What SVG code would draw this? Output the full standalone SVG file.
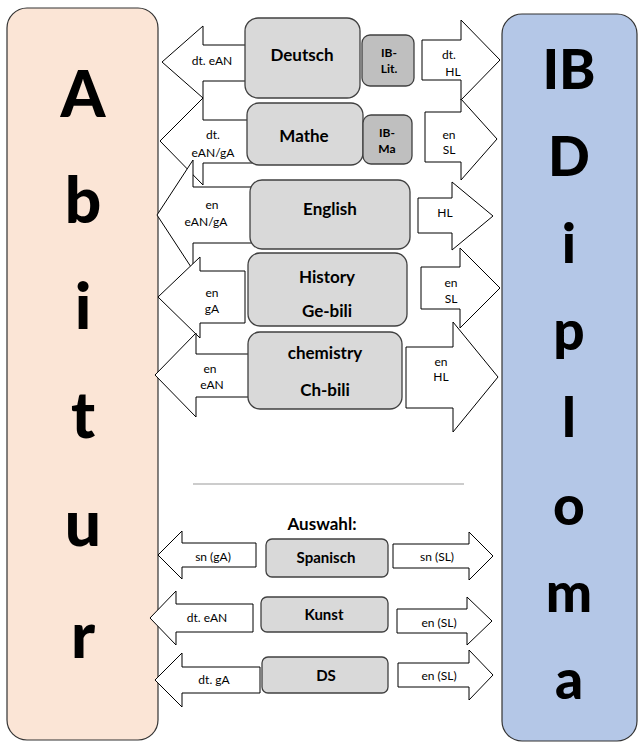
<svg xmlns="http://www.w3.org/2000/svg" width="643" height="747" viewBox="0 0 643 747">
<style>
.panelL{fill:#fbe5d6;stroke:#333;stroke-width:1.2}
.panelR{fill:#b4c7e7;stroke:#333;stroke-width:1.2}
.big{font-family:Lato,"Liberation Sans",sans-serif;font-weight:900;fill:#000;text-anchor:middle}
.box{fill:#d9d9d9;stroke:#404040;stroke-width:1.3}
.box2{fill:#bfbfbf;stroke:#404040;stroke-width:1.3}
.arr{fill:#fff;stroke:#000;stroke-width:1}
.lbl{font-family:Lato,"Liberation Sans",sans-serif;font-weight:bold;font-size:17px;fill:#000;text-anchor:middle}
.lbls{font-family:Lato,"Liberation Sans",sans-serif;font-weight:bold;font-size:15px;fill:#000;text-anchor:middle}
.ib{font-family:Lato,"Liberation Sans",sans-serif;font-weight:bold;font-size:12px;fill:#000;text-anchor:middle}
.t{font-family:Lato,"Liberation Sans",sans-serif;font-size:12px;fill:#000;text-anchor:middle}
</style>

<g id="abitur">
<rect class="panelL" x="7" y="8" width="151" height="732" rx="20"/>
<text class="big" font-size="64" x="83" y="117">A</text>
<text class="big" font-size="64" x="83" y="223">b</text>
<text class="big" font-size="64" x="83" y="329">i</text>
<text class="big" font-size="64" x="83" y="438">t</text>
<text class="big" font-size="64" x="83" y="546">u</text>
<text class="big" font-size="64" x="83" y="658">r</text>
</g>

<g id="ibdiploma">
<rect class="panelR" x="502" y="14" width="135" height="727" rx="20"/>
<text class="big" font-size="55" x="569" y="89">IB</text>
<text class="big" font-size="55" x="569" y="176">D</text>
<text class="big" font-size="55" x="569" y="263">i</text>
<text class="big" font-size="55" x="569" y="350">p</text>
<text class="big" font-size="55" x="569" y="437">l</text>
<text class="big" font-size="55" x="569" y="525">o</text>
<text class="big" font-size="55" x="569" y="612">m</text>
<text class="big" font-size="55" x="569" y="699">a</text>
</g>

<g id="connectors">
<path class="arr" d="M162,62 L203,26 L203,45 L250,45 L250,81 L203,81 L203,98 Z"/>
<path class="arr" d="M160,141 L203,98 L203,120 L252,120 L252,163 L203,163 L203,185 Z"/>
<path class="arr" d="M157,215 L193,160 L193,187 L255,187 L255,243 L193,243 L193,270 Z"/>
<path class="arr" d="M158,297 L200,257 L200,271 L245,271 L245,323 L200,323 L200,338 Z"/>
<path class="arr" d="M155,375 L196,333 L196,354 L252,354 L252,397 L196,397 L196,417 Z"/>

<path class="arr" d="M422,40 L461,40 L461,20 L500,60 L461,100 L461,80 L422,80 Z"/>
<path class="arr" d="M425,112 L461,112 L461,99 L497,139 L461,180 L461,162 L425,162 Z"/>
<path class="arr" d="M418,198 L452,198 L452,182 L493,216 L452,250 L452,233 L418,233 Z"/>
<path class="arr" d="M421,267 L460,267 L460,248 L500,288 L460,328 L460,309 L421,309 Z"/>
<path class="arr" d="M406,347 L453,347 L453,322 L498,377 L453,432 L453,408 L406,408 Z"/>

<path class="arr" d="M158,555 L182,531 L182,543 L256,543 L256,567 L182,567 L182,579 Z"/>
<path class="arr" d="M393,544 L469,544 L469,532 L493,556 L469,580 L469,568 L393,568 Z"/>
<path class="arr" d="M150,618 L176,591 L176,604 L253,604 L253,632 L176,632 L176,645 Z"/>
<path class="arr" d="M397,609 L467,609 L467,597 L492,621 L467,645 L467,633 L397,633 Z"/>
<path class="arr" d="M155,680 L182,653 L182,667 L260,667 L260,693 L182,693 L182,707 Z"/>
<path class="arr" d="M398,663 L469,663 L469,650 L493,675 L469,700 L469,687 L398,687 Z"/>

<text class="t" x="212" y="65">dt. eAN</text>
<text class="t" x="213" y="139">dt.</text>
<text class="t" x="213" y="157">eAN/gA</text>
<text class="t" x="212" y="209">en</text>
<text class="t" x="206" y="226">eAN/gA</text>
<text class="t" x="212" y="297">en</text>
<text class="t" x="212" y="313">gA</text>
<text class="t" x="210" y="373">en</text>
<text class="t" x="212" y="389">eAN</text>

<text class="t" x="449" y="59">dt.</text>
<text class="t" x="453" y="76">HL</text>
<text class="t" x="449" y="139">en</text>
<text class="t" x="449" y="154">SL</text>
<text class="t" x="445" y="217">HL</text>
<text class="t" x="451" y="287">en</text>
<text class="t" x="451" y="303">SL</text>
<text class="t" x="441" y="366">en</text>
<text class="t" x="441" y="381">HL</text>

<text class="t" x="213" y="561">sn (gA)</text>
<text class="t" x="437" y="561">sn (SL)</text>
<text class="t" x="207" y="622">dt. eAN</text>
<text class="t" x="439" y="627">en (SL)</text>
<text class="t" x="214" y="684">dt. gA</text>
<text class="t" x="439" y="680">en (SL)</text>
</g>

<g id="deutsch">
<rect class="box" x="245" y="18" width="115" height="80" rx="13"/>
<text class="lbl" x="302" y="61">Deutsch</text>
</g>
<g id="ib-lit">
<rect class="box2" x="362" y="35" width="52" height="51" rx="8"/>
<text class="ib" x="389" y="57">IB-</text>
<text class="ib" x="389" y="73">Lit.</text>
</g>
<g id="mathe">
<rect class="box" x="247" y="103" width="116" height="62" rx="12"/>
<text class="lbl" x="304" y="142">Mathe</text>
</g>
<g id="ib-ma">
<rect class="box2" x="363" y="115" width="49" height="49" rx="8"/>
<text class="ib" x="387" y="137">IB-</text>
<text class="ib" x="387" y="153">Ma</text>
</g>
<g id="english">
<rect class="box" x="250" y="180" width="160" height="69" rx="12"/>
<text class="lbl" x="330" y="215">English</text>
</g>
<g id="history">
<rect class="box" x="248" y="253" width="159" height="73" rx="12"/>
<text class="lbl" x="327" y="283">History</text>
<text class="lbl" x="327" y="317">Ge-bili</text>
</g>
<g id="chemistry">
<rect class="box" x="248" y="332" width="154" height="77" rx="12"/>
<text class="lbl" x="325" y="359">chemistry</text>
<text class="lbl" x="325" y="396">Ch-bili</text>
</g>

<line x1="193" y1="484" x2="464" y2="484" stroke="#999" stroke-width="1"/>
<text class="lbl" x="322" y="530" font-size="19">Auswahl:</text>

<g id="spanisch">
<rect class="box" x="266" y="539" width="122" height="38" rx="6"/>
<text class="lbls" x="326" y="563">Spanisch</text>
</g>
<g id="kunst">
<rect class="box" x="261" y="597" width="127" height="35" rx="6"/>
<text class="lbls" x="324" y="620">Kunst</text>
</g>
<g id="ds">
<rect class="box" x="262" y="657" width="126" height="36" rx="6"/>
<text class="lbls" x="326" y="681">DS</text>
</g>
</svg>
